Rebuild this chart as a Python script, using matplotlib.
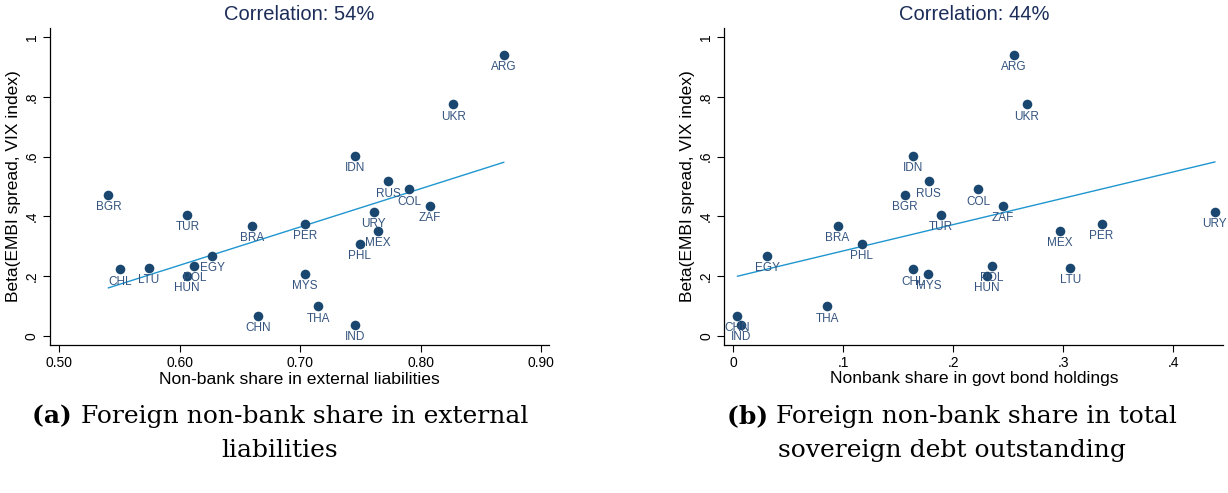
import numpy as np
import matplotlib
matplotlib.use("Agg")
import matplotlib.pyplot as plt

plt.rcParams['font.family'] = ['Liberation Sans', 'DejaVu Sans']

countries = ["ARG", "BGR", "BRA", "CHL", "CHN", "COL", "EGY", "HUN", "IDN", "IND", "LTU",
             "MEX", "MYS", "PER", "PHL", "POL", "RUS", "THA", "TUR", "UKR", "URY", "ZAF"]
beta_vix = [0.941, 0.471, 0.369, 0.223, 0.067, 0.490, 0.268, 0.200, 0.602, 0.037, 0.228,
            0.351, 0.207, 0.375, 0.309, 0.235, 0.517, 0.099, 0.405, 0.775, 0.415, 0.436]
nonbank_ext = [0.869, 0.541, 0.660, 0.551, 0.665, 0.7905, 0.627, 0.606, 0.746, 0.746, 0.5744,
               0.7645, 0.704, 0.704, 0.7496, 0.6123, 0.773, 0.715, 0.6066, 0.827, 0.761, 0.808]
nonbank_govt = [0.2555, 0.156, 0.095, 0.164, 0.004, 0.223, 0.031, 0.2306, 0.164, 0.007, 0.3066,
                0.297, 0.1775, 0.335, 0.117, 0.2355, 0.178, 0.0855, 0.189, 0.267, 0.438, 0.245]

xticks_a = [0.5, 0.6, 0.7, 0.8, 0.9]
xticklabels_a = ["0.50", "0.60", "0.70", "0.80", "0.90"]
xticks_b = [0, 0.1, 0.2, 0.3, 0.4]
xticklabels_b = ["0", ".1", ".2", ".3", ".4"]
yticks = [0, 0.2, 0.4, 0.6, 0.8, 1.0]
yticklabels = ["0", ".2", ".4", ".6", ".8", "1"]

titles = ["Correlation: 54%", "Correlation: 44%"]
xlabels = ["Non-bank share in external liabilities", "Nonbank share in govt bond holdings"]
ylabel = "Beta(EMBI spread, VIX index)"
captions = [("(a)", "Foreign non-bank share in external", "liabilities"),
            ("(b)", "Foreign non-bank share in total", "sovereign debt outstanding")]

W, H = 1228, 493
fig = plt.figure(figsize=(W / 100, H / 100), dpi=100)

MARK = "#1a476f"
LAB = "#34547f"
LINE = "#1f96cf"
TITLE = "#1c2d59"

def axes_px(l, r, t, b):
    return fig.add_axes([l / W, 1 - b / H, (r - l) / W, (b - t) / H])

ax_a = axes_px(50, 549, 28, 345)
ax_b = axes_px(724.3, 1223.3, 28, 345)

setups = [(ax_a, nonbank_ext, (0.4925, 0.9066), xticks_a, xticklabels_a),
          (ax_b, nonbank_govt, (-0.008, 0.4457), xticks_b, xticklabels_b)]

for i, (ax, xs, xlim, xt, xtl) in enumerate(setups):
    xv = np.array(xs)
    yv = np.array(beta_vix)
    ax.scatter(xv, yv, s=48, color=MARK, zorder=3, linewidths=0)
    for c, x, y in zip(countries, xv, yv):
        ax.annotate(c, (x, y), xytext=(0, -4.5), textcoords="offset points",
                    ha="center", va="top", fontsize=8.5, color=LAB, zorder=4)
    slope, icpt = np.polyfit(xv, yv, 1)
    xl = np.array([xv.min(), xv.max()])
    ax.plot(xl, icpt + slope * xl, color=LINE, lw=1.0, zorder=2)
    ax.set_xlim(*xlim)
    ax.set_ylim(-0.0301, 1.030)
    ax.set_xticks(xt)
    ax.set_xticklabels(xtl, fontsize=10)
    ax.set_yticks(yticks)
    ax.set_yticklabels(yticklabels, fontsize=10, rotation=90, va="center")
    for s in ["top", "right"]:
        ax.spines[s].set_visible(False)
    for s in ["left", "bottom"]:
        ax.spines[s].set_linewidth(0.9)
    ax.tick_params(length=5, width=0.8, pad=3)
    ax.set_xlabel(xlabels[i], fontsize=12.6, labelpad=1)
    ax.set_ylabel(ylabel, fontsize=12.5, labelpad=3)
    ax.set_title(titles[i], fontsize=14.5, color=TITLE, pad=6)

# captions
fig.canvas.draw()
rend = fig.canvas.get_renderer()
centers = [280, 952]
cap_font = dict(family=["DejaVu Serif"], fontsize=18)
for (tag, l1, l2), cx in zip(captions, centers):
    t_tag = fig.text(0, 0, tag + " ", fontweight="bold", **cap_font)
    t_l1 = fig.text(0, 0, l1, **cap_font)
    w_tag = t_tag.get_window_extent(rend).width
    w_l1 = t_l1.get_window_extent(rend).width
    total = w_tag + w_l1
    x0 = cx - total / 2
    y1 = 1 - 423 / H
    t_tag.set_position((x0 / W, y1))
    t_l1.set_position(((x0 + w_tag) / W, y1))
    fig.text(cx / W, 1 - 457 / H, l2, ha="center", **cap_font)

fig.savefig("out.png", dpi=100)
